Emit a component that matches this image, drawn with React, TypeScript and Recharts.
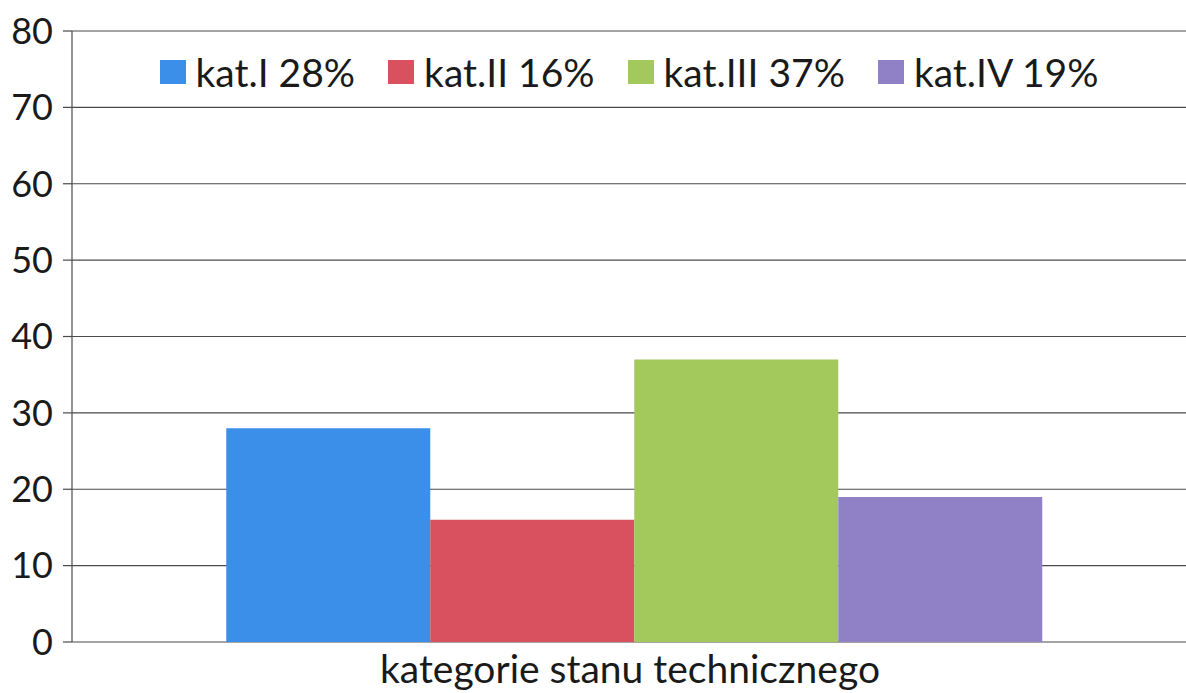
import { BarChart, Bar, XAxis, YAxis, CartesianGrid } from 'recharts';

const categories = ['kategorie stanu technicznego'];
const seriesNames = ['kat.I 28%', 'kat.II 16%', 'kat.III 37%', 'kat.IV 19%'];
const seriesValues = [28, 16, 37, 19];
const seriesColors = ['#3b8fe8', '#d9505f', '#a3c85c', '#9080c6'];
const yTicks = [0, 10, 20, 30, 40, 50, 60, 70, 80];

const FONT = 'Lato, "Open Sans", sans-serif';

const data = categories.map(name => {
    const row: Record<string, string | number> = { name };
    seriesNames.forEach((s, i) => {
        row[`s${i}`] = seriesValues[i];
    });
    return row;
});

// legend sits inside the plot area, like in the original
function LegendOverlay() {
    return (
        <div
            style={{
                position: 'absolute', top: 48, left: 72, width: 1114,
                display: 'flex', justifyContent: 'center', gap: 33,
                fontFamily: FONT, fontSize: 39, color: '#1a1a1a', lineHeight: '48px',
            }}
        >
            {seriesNames.map((s, i) => (
                <div key={s} style={{ display: 'flex', alignItems: 'center' }}>
                    <span style={{ display: 'inline-block', width: 26, height: 24, background: seriesColors[i], marginRight: 10 }} />
                    <span>{s}</span>
                </div>
            ))}
        </div>
    );
}

function CategoryTick(props: any) {
    const { x, y, payload } = props;
    return (
        <text x={x - 5} y={y + 33} textAnchor="middle" fill="#1a1a1a" fontSize={39} fontFamily={FONT}>
            {payload.value}
        </text>
    );
}

export default function App() {
    return (
        <div style={{ position: 'absolute', left: 0, top: 0, width: 1186, height: 693, background: '#fff', overflow: 'hidden' }}>
            <BarChart
                width={1186}
                height={693}
                data={data}
                margin={{ top: 31, right: -12, left: 0, bottom: 0 }}
                barCategoryGap="13.7%"
                barGap={0}
                style={{ overflow: 'hidden' }}
            >
                <CartesianGrid vertical={false} stroke="#4a4a4a" strokeWidth={1.2} />
                <XAxis
                    dataKey="name"
                    height={51}
                    axisLine={false}
                    tickLine={false}
                    tick={<CategoryTick />}
                />
                <YAxis
                    width={72}
                    domain={[0, 80]}
                    ticks={yTicks}
                    interval={0}
                    axisLine={{ stroke: '#4a4a4a', strokeWidth: 1.2 }}
                    tickLine={{ stroke: '#4a4a4a', strokeWidth: 1.2 }}
                    tickSize={9}
                    tick={{ fill: '#1a1a1a', fontSize: 36, fontFamily: FONT }}
                    tickMargin={10}
                />
                {seriesNames.map((s, i) => (
                    <Bar key={s} dataKey={`s${i}`} name={s} fill={seriesColors[i]} isAnimationActive={false} />
                ))}
            </BarChart>
            <LegendOverlay />
        </div>
    );
}
